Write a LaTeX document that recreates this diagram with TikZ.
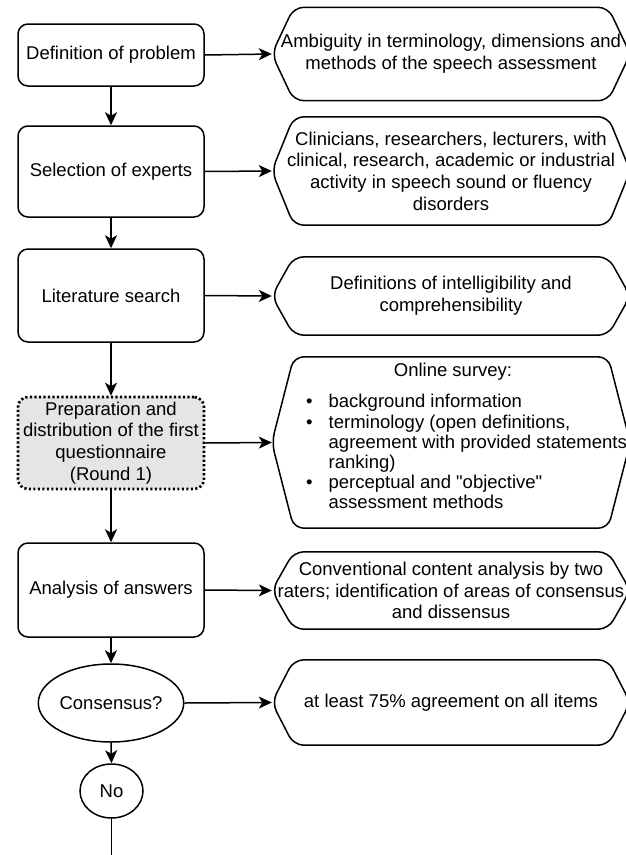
\documentclass[tikz,border=0pt]{standalone}
\usepackage{fontspec}
\setmainfont{Liberation Sans}
\usetikzlibrary{positioning, arrows.meta, shapes.geometric}

\tikzset{
    stepbox/.style={draw, line width=1.5pt, rounded corners=10pt, align=center, minimum width=186pt, inner sep=0pt},
    infobox/.style={align=center, minimum width=358pt, inner sep=0pt},
    roundbox/.style={draw, line width=1.5pt, ellipse, inner sep=0pt, align=center},
    flow/.style={-{Stealth[length=13pt, width=12pt, inset=3.5pt]}, line width=1.5pt},
}

\begin{document}
\begin{tikzpicture}[x=1pt, y=-1pt, every node/.style={font=\fontsize{18.5}{21.7}\selectfont}]
    \useasboundingbox (0, 0) rectangle (626, 855);
    \clip (0, 0) rectangle (626, 855);

    % steps on the left
    \node (defn) [stepbox, minimum height=62pt] at (111, 55) {Definition of problem};
    \node (sel) [stepbox, minimum height=91pt] at (111, 171.5) {Selection of experts};
    \node (lit) [stepbox, minimum height=93pt] at (111, 295.5) {Literature search};
    \node (prep) [stepbox, minimum height=92pt, fill=black!10, dash pattern=on 2.2pt off 2.3pt, line width=2.6pt] at (111, 443) {Preparation and\\distribution of the first\\questionnaire\\(Round 1)};
    \node (ana) [stepbox, minimum height=94pt] at (111, 590) {Analysis of answers};
    \node (cons) [roundbox, minimum width=125pt, minimum height=78pt] at (111, 703) {Consensus?};
    \node (no) [roundbox, minimum width=63pt, minimum height=54pt] at (111.5, 791) {No};
    \coordinate (tail) at (111.5, 870);

    % notes on the right
    \node (amb) [infobox, minimum height=93pt] at (451, 54) {Ambiguity in terminology, dimensions and\\methods of the speech assessment};
    \node (exp) [infobox, minimum height=108pt] at (451, 171) {Clinicians, researchers, lecturers, with\\clinical, research, academic or industrial\\activity in speech sound or fluency\\disorders};
    \node (defs) [infobox, minimum height=78pt] at (451, 296) {Definitions of intelligibility and\\comprehensibility};
    \node (surv) [infobox, minimum height=171pt] at (451, 442.5) {};
    \node (survhd) at (453, 372) {Online survey:};
    \node (survlist) [anchor=north west, inner sep=0pt, font=\fontsize{18.5}{20.2}\selectfont] at (306, 393.5) {%
        \renewcommand{\arraystretch}{1}%
        \begin{tabular}{@{}l@{\hspace{16pt}}l@{}}
        \textbullet & background information\\
        \textbullet & terminology (open definitions,\\
                    & agreement with provided statements,\\
                    & ranking)\\
        \textbullet & perceptual and \textquotedbl objective\textquotedbl\\
                    & assessment methods
        \end{tabular}};
    \node (cont) [infobox, minimum height=77pt] at (451, 590.5) {Conventional content analysis by two\\raters; identification of areas of consensus\\and dissensus};
    \node (agree) [infobox, minimum height=85pt] at (451, 702.5) {at least 75\% agreement on all items};

    \foreach \n in {amb, exp, defs, surv, cont, agree}
        \draw [line width=1.5pt, rounded corners=10pt] (\n.west) -- ([xshift=22pt]\n.north west) -- ([xshift=-22pt]\n.north east) -- (\n.east) -- ([xshift=-22pt]\n.south east) -- ([xshift=22pt]\n.south west) -- cycle;

    \draw [flow] (defn.south) -- (sel.north);
    \draw [flow] (sel.south) -- (lit.north);
    \draw [flow] (lit.south) -- (prep.north);
    \draw [flow] (prep.south) -- (ana.north);
    \draw [flow] (ana.south) -- (cons.north);
    \draw [flow] (cons.south) -- (no.north);
    \draw [line width=1.5pt] (no.south) -- (tail);

    \draw [flow] (defn.east) -- (amb.west);
    \draw [flow] (sel.east) -- (exp.west);
    \draw [flow] (lit.east) -- (defs.west);
    \draw [flow] (prep.east) -- (surv.west);
    \draw [flow] (ana.east) -- (cont.west);
    \draw [flow] (cons.east) -- (agree.west);
\end{tikzpicture}
\end{document}
